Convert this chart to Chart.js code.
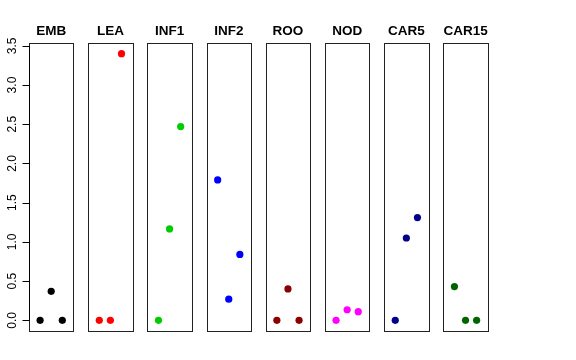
<!DOCTYPE html>
<html>
<head>
<meta charset="utf-8">
<script src="https://cdn.jsdelivr.net/npm/chart.js@4.4.1/dist/chart.umd.min.js"></script>
<style>
  html, body { margin: 0; padding: 0; background: #fff; }
  #wrap { position: relative; width: 576px; height: 360px; }
  #wrap canvas { position: absolute; left: 0; top: 0; }
</style>
</head>
<body>
<div id="wrap"></div>
<script>
const tissues = ['EMB', 'LEA', 'INF1', 'INF2', 'ROO', 'NOD', 'CAR5', 'CAR15'];
const colors = ['#000000', '#ff0000', '#00cd00', '#0000ff', '#8b0000', '#ff00ff', '#00008b', '#006400'];
const xPositions = [1, 2, 3];

const emb = [0, 0.37, 0];
const lea = [0, 0, 3.40];
const inf1 = [0, 1.165, 2.47];
const inf2 = [1.79, 0.27, 0.84];
const roo = [0, 0.40, 0];
const nod = [0, 0.135, 0.11];
const car5 = [0, 1.05, 1.31];
const car15 = [0.43, 0, 0];
const seriesValues = [emb, lea, inf1, inf2, roo, nod, car5, car15];

const yTicks = [0, 0.5, 1, 1.5, 2, 2.5, 3, 3.5];
const yTickLabels = ['0.0', '0.5', '1.0', '1.5', '2.0', '2.5', '3.0', '3.5'];

const W = 576, H = 360;
const firstLeft = 29, pitch = 59.19, panelWidth = 44.4;
const panelTop = 43, panelBottom = 331;

// box round each panel plus its title
const panelDecor = {
  id: 'panelDecor',
  afterDraw(chart, args, opts) {
    const { ctx, chartArea: a } = chart;
    ctx.save();
    ctx.strokeStyle = '#222';
    ctx.lineWidth = 1;
    const l = Math.round(a.left) + 0.5, r = Math.round(a.right) + 0.5;
    const t = Math.round(a.top) + 0.5, b = Math.round(a.bottom) + 0.5;
    ctx.strokeRect(l, t, r - l, b - t);
    ctx.fillStyle = '#000';
    ctx.font = 'bold 13.5px "Liberation Sans", Arial, sans-serif';
    ctx.textAlign = 'center';
    ctx.textBaseline = 'alphabetic';
    ctx.fillText(opts.title, (a.left + a.right) / 2, 34.5);
    ctx.restore();
  }
};

// R-style left axis with rotated labels, only on the first panel
const leftAxis = {
  id: 'leftAxis',
  afterDraw(chart, args, opts) {
    if (!opts.show) return;
    const { ctx, chartArea: a } = chart;
    const y = chart.scales.y;
    const x0 = Math.round(a.left) + 0.5;
    ctx.save();
    ctx.strokeStyle = '#000';
    ctx.lineWidth = 1;
    ctx.beginPath();
    ctx.moveTo(x0, y.getPixelForValue(yTicks[0]));
    ctx.lineTo(x0, y.getPixelForValue(yTicks[yTicks.length - 1]));
    yTicks.forEach((v) => {
      const py = Math.round(y.getPixelForValue(v)) + 0.5;
      ctx.moveTo(x0 - 7, py);
      ctx.lineTo(x0, py);
    });
    ctx.stroke();
    ctx.fillStyle = '#000';
    ctx.font = '12px "Liberation Sans", Arial, sans-serif';
    ctx.textAlign = 'center';
    ctx.textBaseline = 'alphabetic';
    yTicks.forEach((v, i) => {
      ctx.save();
      ctx.translate(15.5, y.getPixelForValue(v));
      ctx.rotate(-Math.PI / 2);
      ctx.fillText(yTickLabels[i], 0, 0);
      ctx.restore();
    });
    ctx.restore();
  }
};

const wrap = document.getElementById('wrap');

tissues.forEach((name, i) => {
  const canvas = document.createElement('canvas');
  canvas.width = W;
  canvas.height = H;
  wrap.appendChild(canvas);

  const left = firstLeft + i * pitch;
  const right = W - (left + panelWidth);

  new Chart(canvas.getContext('2d'), {
    type: 'scatter',
    data: {
      datasets: [{
        data: xPositions.map((x, k) => ({ x: x, y: seriesValues[i][k] })),
        backgroundColor: colors[i],
        borderWidth: 0,
        pointRadius: 3.6,
        pointHoverRadius: 3.6
      }]
    },
    options: {
      responsive: false,
      animation: false,
      events: [],
      layout: { padding: { left: left, right: right, top: panelTop, bottom: H - panelBottom } },
      scales: {
        x: { type: 'linear', min: 0, max: 4, display: false },
        y: { type: 'linear', min: -0.136, max: 3.536, display: false }
      },
      plugins: {
        legend: { display: false },
        tooltip: { enabled: false },
        panelDecor: { title: name },
        leftAxis: { show: i === 0 }
      }
    },
    plugins: [panelDecor, leftAxis]
  });
});
</script>
</body>
</html>
